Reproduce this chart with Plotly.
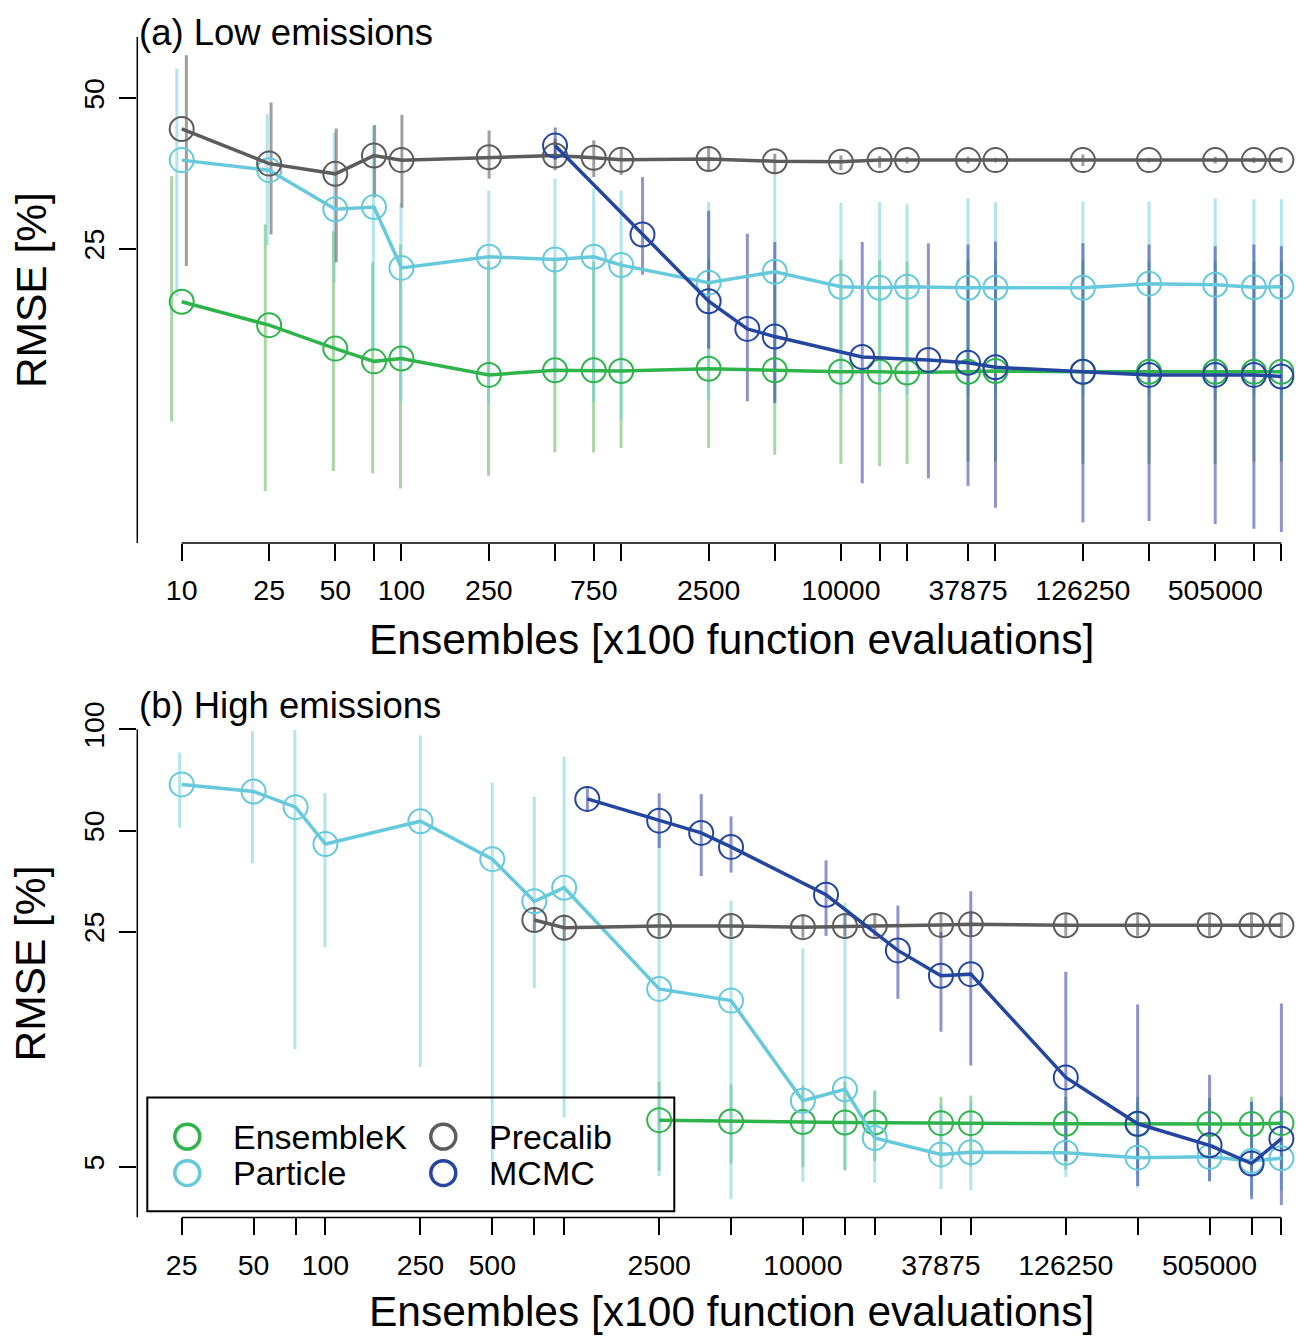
import plotly.graph_objects as go

W, H = 1309, 1337
FONT = "Liberation Sans, Arial, Helvetica, sans-serif"

# ---------------- (a) Low emissions ----------------
a_ens = [10, 25, 50, 75, 100, 250, 500, 750, 1000, 2500, 5000, 10000, 15000, 20000,
         37875, 50500, 126250, 252500, 505000, 757500, 1010000]
a_labels = ["10", "25", "50", "", "100", "250", "", "750", "", "2500", "", "10000", "", "",
            "37875", "", "126250", "", "505000", "", ""]

a_enkf = [19.6, 17.6, 15.8, 14.9, 15.1, 14.0, 14.3, 14.3, 14.25, 14.4, 14.3, 14.2, 14.2, 14.15,
          14.2, 14.25, 14.2, 14.2, 14.2, 14.2, 14.2]
a_enkf_hi = [34.9, 28.0, 27.1, 23.5, 25.5, 23.6, 23.8, 23.6, 23.6, 23.8, 23.8, 23.8, 23.7, 23.6,
             23.8, 23.6, 23.8, 23.6, 23.6, 23.6, 23.6]
a_enkf_lo = [11.3, 8.2, 9.0, 8.9, 8.3, 8.8, 9.8, 9.8, 10.0, 10.0, 9.7, 9.3, 9.2, 9.3,
             9.4, 9.4, 9.3, 9.3, 9.3, 9.4, 9.4]

a_pf = [37.6, 35.9, 30.0, 30.3, 22.9, 24.1, 23.8, 24.1, 23.2, 21.4, 22.5, 21.0, 20.9, 21.0,
        20.9, 20.9, 20.9, 21.3, 21.2, 20.95, 21.0]
a_pf_hi = [57.3, 46.5, 42.7, 44.0, 30.9, 32.7, 34.5, 33.0, 32.7, 31.0, 35.6, 30.9, 31.0, 30.7,
           31.6, 31.0, 31.1, 31.1, 31.5, 31.4, 31.4]
a_pf_lo = [20.1, 25.4, 21.4, 15.6, 12.4, 12.2, 13.5, 12.4, 11.4, 12.5, 12.4, 12.9, 12.9, 12.8,
           12.7, 12.7, 12.7, 12.6, 12.6, 12.7, 12.7]

a_pre = [43.4, 37.0, 35.3, 38.4, 37.6, 38.1, 38.4, 38.0, 37.65, 37.8, 37.4, 37.3, 37.6, 37.6,
         37.6, 37.6, 37.6, 37.6, 37.6, 37.6, 37.6]
a_pre_hi = [60.9, 49.0, 43.5, 44.2, 46.3, 43.1, 41.5, 41.2, 39.9, 40.0, 38.7, 38.4, 38.3, 38.2,
            38.2, 38.0, 38.6, 38.0, 38.2, 38.1, 38.1]
a_pre_lo = [23.1, 26.7, 23.5, 31.7, 30.2, 34.5, 35.9, 34.8, 35.1, 35.9, 35.3, 35.9, 36.3, 37.0,
            37.0, 37.2, 36.6, 37.2, 37.0, 37.1, 37.1]

a_mcmc_ens = [500, 1250, 2500, 3750, 5000, 12500, 25000, 37875, 50500, 126250, 252500,
              505000, 757500, 1010000]
a_mcmc = [40.2, 26.7, 19.65, 17.3, 16.7, 15.2, 15.0, 14.8, 14.5, 14.2, 14.0, 14.0, 14.0, 13.9]
a_mcmc_hi = [43.7, 34.8, 29.8, 26.8, 25.8, 25.8, 25.65, 25.5, 25.85, 25.65, 25.5, 25.3, 25.5, 25.3]
a_mcmc_lo = [37.6, 22.2, 15.8, 12.4, 12.3, 8.5, 8.7, 8.4, 7.6, 7.1, 7.15, 7.05, 6.9, 6.8]

a_yticks = [25, 50]

# ---------------- (b) High emissions ----------------
b_ens = [25, 50, 75, 100, 250, 500, 750, 1000, 2500, 5000, 10000, 15000, 20000,
         37875, 50500, 126250, 252500, 505000, 757500, 1010000]
b_labels = ["25", "50", "", "100", "250", "500", "", "", "2500", "", "10000", "", "",
            "37875", "", "126250", "", "505000", "", ""]

b_pf = [68.6, 65.3, 58.7, 45.6, 53.3, 41.1, 30.8, 33.8, 16.9, 15.6, 7.86, 8.5, 6.09,
        5.44, 5.52, 5.5, 5.32, 5.35, 5.2, 5.3]
b_pf_hi = [85.4, 98.8, 99.5, 64.7, 95.9, 69.4, 63.0, 82.9, 49.7, 30.9, 22.3, 30.5, 8.43,
           7.66, 7.8, 7.8, 7.8, 7.8, 7.8, 7.8]
b_pf_lo = [51.0, 40.0, 11.2, 22.5, 9.9, 5.2, 17.0, 7.0, 4.69, 4.0, 4.51, 4.88, 4.48,
           4.29, 4.25, 4.66, 4.33, 4.53, 4.1, 4.25]

b_pre_ens = [750, 1000, 2500, 5000, 10000, 15000, 20000, 37875, 50500, 126250, 252500,
             505000, 757500, 1010000]
b_pre = [27.1, 25.7, 26.0, 26.0, 25.8, 26.0, 26.0, 26.2, 26.3, 26.15, 26.15, 26.15, 26.15, 26.15]
b_pre_hi = [29.5, 28.1, 28.3, 28.3, 28.2, 28.3, 28.3, 28.4, 28.5, 28.5, 28.4, 28.4, 28.4, 28.4]
b_pre_lo = [24.9, 23.7, 24.2, 24.2, 24.0, 24.2, 24.2, 24.3, 24.4, 24.3, 24.3, 24.3, 24.3, 24.3]

b_enkf_ens = [2500, 5000, 10000, 15000, 20000, 37875, 50500, 126250, 252500, 505000,
              757500, 1010000]
b_enkf = [6.88, 6.82, 6.79, 6.77, 6.77, 6.74, 6.74, 6.71, 6.7, 6.7, 6.7, 6.74]
b_enkf_hi = [8.96, 8.78, 8.7, 8.96, 8.42, 8.08, 8.14, 8.08, 8.08, 8.0, 8.08, 8.08]
b_enkf_lo = [4.86, 5.11, 4.98, 4.88, 5.2, 4.96, 5.0, 4.9, 4.9, 4.9, 4.9, 4.9]

b_mcmc_ens = [1250, 2500, 3750, 5000, 12500, 25000, 37875, 50500, 126250, 252500,
              505000, 757500, 1010000]
b_mcmc = [62.1, 53.5, 49.2, 44.7, 32.2, 22.0, 18.5, 18.7, 9.22, 6.71, 5.79, 5.11, 6.06]
b_mcmc_hi = [67.6, 64.5, 64.2, 55.1, 40.8, 29.9, 24.9, 33.0, 19.0, 15.2, 9.38, 7.8, 15.3]
b_mcmc_lo = [57.0, 44.4, 36.6, 37.5, 24.3, 15.8, 12.6, 10.0, 5.2, 4.38, 4.53, 4.0, 3.85]

b_yticks = [5, 25, 50, 100]

# ---------------- styling ----------------
COL = {"EnsembleK": "#2fb44b", "Particle": "#66c9dc", "Precalib": "#5c5c5c", "MCMC": "#2446a0"}
BAR = {"EnsembleK": "rgba(80,178,70,0.5)", "Particle": "rgba(102,204,221,0.5)",
       "Precalib": "rgba(95,95,95,0.6)", "MCMC": "rgba(50,60,170,0.55)"}
DODGE = {"EnsembleK": -1.0, "Particle": -0.5, "Precalib": 0.5, "MCMC": 1.0}
ORDER = ["EnsembleK", "Particle", "Precalib", "MCMC"]

panels = [
    dict(xa="x", ya="y", series={
        "EnsembleK": (a_ens, a_enkf, a_enkf_lo, a_enkf_hi),
        "Particle": (a_ens, a_pf, a_pf_lo, a_pf_hi),
        "Precalib": (a_ens, a_pre, a_pre_lo, a_pre_hi),
        "MCMC": (a_mcmc_ens, a_mcmc, a_mcmc_lo, a_mcmc_hi)}),
    dict(xa="x2", ya="y2", series={
        "EnsembleK": (b_enkf_ens, b_enkf, b_enkf_lo, b_enkf_hi),
        "Particle": (b_ens, b_pf, b_pf_lo, b_pf_hi),
        "Precalib": (b_pre_ens, b_pre, b_pre_lo, b_pre_hi),
        "MCMC": (b_mcmc_ens, b_mcmc, b_mcmc_lo, b_mcmc_hi)}),
]

fig = go.Figure()

for p in panels:
    # uncertainty ranges first, so lines and circles sit on top
    for name in ORDER:
        xs, ys, lo, hi = p["series"][name]
        bx, by = [], []
        for x, l, h in zip(xs, lo, hi):
            bx += [x + DODGE[name], x + DODGE[name], None]
            by += [l, h, None]
        fig.add_trace(go.Scatter(x=bx, y=by, mode="lines", xaxis=p["xa"], yaxis=p["ya"],
                                 line=dict(color=BAR[name], width=3),
                                 hoverinfo="skip", showlegend=False))
    for name in ORDER:
        xs, ys, lo, hi = p["series"][name]
        fig.add_trace(go.Scatter(x=xs, y=ys, mode="lines+markers", name=name,
                                 xaxis=p["xa"], yaxis=p["ya"],
                                 line=dict(color=COL[name], width=3.5),
                                 marker=dict(symbol="circle-open", size=24, color=COL[name],
                                             line=dict(width=2, color=COL[name])),
                                 cliponaxis=False, showlegend=False))

# ---------------- axes ----------------
X_DOM = [137.3 / W, 1.0]
YA_DOM = [1 - 538.3 / H, 1 - 29.3 / H]
YB_DOM = [1 - 1216.7 / H, 1 - 706.0 / H]

tickfont = dict(family=FONT, size=28.5, color="black")
common_x = dict(type="log", showgrid=False, zeroline=False, showline=False,
                ticks="outside", ticklen=17, tickwidth=1.5, tickcolor="black",
                tickfont=tickfont, ticklabelstandoff=5)
common_y = dict(type="log", showgrid=False, zeroline=False, showline=False,
                ticks="outside", ticklen=17, tickwidth=1.5, tickcolor="black",
                tickfont=tickfont, tickangle=-90, ticklabelstandoff=4)

fig.update_layout(
    xaxis=dict(domain=X_DOM, anchor="y", range=[0.79794, 6.1301],
               tickvals=a_ens, ticktext=a_labels, **common_x),
    yaxis=dict(domain=YA_DOM, anchor="x", range=[0.81017, 1.82089],
               tickvals=a_yticks, ticktext=[str(v) for v in a_yticks], **common_y),
    xaxis2=dict(domain=X_DOM, anchor="y2", range=[1.21196, 6.12001],
                tickvals=b_ens, ticktext=b_labels, **common_x),
    yaxis2=dict(domain=YB_DOM, anchor="x2", range=[0.5482, 2.05825],
                tickvals=b_yticks, ticktext=[str(v) for v in b_yticks], **common_y),
)

# axis lines spanning the tick range, like base-graphics axes
axis_line = dict(color="black", width=1.5)
shapes = [
    dict(type="line", xref="x domain", yref="y domain", x0=0, x1=0, y0=0, y1=1, line=axis_line),
    dict(type="line", xref="x", yref="y domain", x0=a_ens[0], x1=a_ens[-1], y0=0, y1=0,
         line=axis_line),
    dict(type="line", xref="x2 domain", yref="y2", x0=0, x1=0,
         y0=10 ** 0.5482, y1=max(b_yticks), line=axis_line),
    dict(type="line", xref="x2", yref="y2 domain", x0=b_ens[0], x1=b_ens[-1], y0=0, y1=0,
         line=axis_line),
]


def px(x):
    return x / W


def py(y):
    return 1 - y / H


# legend box in panel (b)
shapes.append(dict(type="rect", xref="paper", yref="paper",
                   x0=px(147.3), x1=px(674.3), y0=py(1210.4), y1=py(1096),
                   line=dict(color="black", width=2), fillcolor="rgba(0,0,0,0)"))
leg_cols = [(187.3, 231), (443.3, 487)]
leg_rows = [1135.4, 1172.1]
leg_items = [("EnsembleK", 0, 0), ("Particle", 0, 1), ("Precalib", 1, 0), ("MCMC", 1, 1)]
annotations = []
R = 12.5
for name, c, r in leg_items:
    cx, tx = leg_cols[c]
    cy = leg_rows[r]
    shapes.append(dict(type="circle", xref="paper", yref="paper",
                       x0=px(cx - R), x1=px(cx + R), y0=py(cy + R), y1=py(cy - R),
                       line=dict(color=COL[name], width=3.5)))
    annotations.append(dict(x=px(tx), y=py(cy), xref="paper", yref="paper", text=name,
                            showarrow=False, xanchor="left", yanchor="middle",
                            font=dict(family=FONT, size=34, color="black")))

# titles
title_font = dict(family=FONT, size=42.5, color="black")
for ycen in (635, 1311.7):
    annotations.append(dict(x=px(731), y=py(ycen), xref="paper", yref="paper",
                            text="Ensembles [x100 function evaluations]", showarrow=False,
                            xanchor="center", yanchor="middle", font=title_font))
for ycen in (283.8, 961.3):
    annotations.append(dict(x=px(31), y=py(ycen), xref="paper", yref="paper",
                            text="RMSE [%]", textangle=-90, showarrow=False,
                            xanchor="center", yanchor="middle", font=title_font))
panel_font = dict(family=FONT, size=36.5, color="black")
annotations.append(dict(x=px(137), y=py(25), xref="paper", yref="paper",
                        text="(a) Low emissions", showarrow=False, xanchor="left",
                        yanchor="middle", font=panel_font))
annotations.append(dict(x=px(137), y=py(702), xref="paper", yref="paper",
                        text="(b) High emissions", showarrow=False, xanchor="left",
                        yanchor="middle", font=panel_font))

fig.update_layout(
    width=W, height=H, autosize=False,
    margin=dict(l=0, r=0, t=0, b=0, pad=0),
    paper_bgcolor="white", plot_bgcolor="white",
    showlegend=False,
    shapes=shapes, annotations=annotations,
    font=dict(family=FONT, color="black"),
)

fig.write_html("out.html")
